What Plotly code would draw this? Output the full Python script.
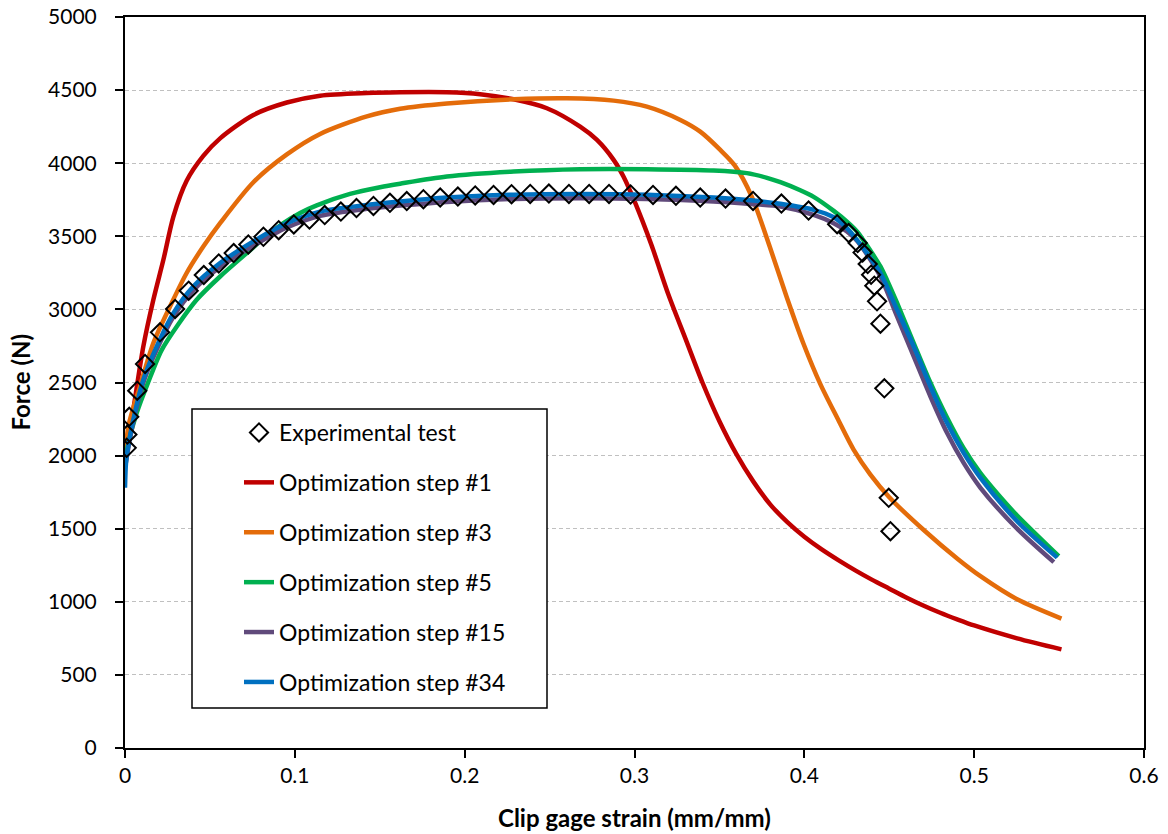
import plotly.graph_objects as go

# Experimental test (diamonds)
exp_x = [0.0010, 0.0014, 0.0025, 0.0072, 0.0118, 0.0206, 0.0295, 0.0375, 0.0464, 0.0552,
         0.0640, 0.0726, 0.0815, 0.0905, 0.0994, 0.1086, 0.1176, 0.1271, 0.1363, 0.1463,
         0.1560, 0.1659, 0.1757, 0.1856, 0.1960, 0.2062, 0.2170, 0.2276, 0.2386, 0.2496,
         0.2614, 0.2733, 0.2850, 0.2977, 0.3109, 0.3244, 0.3387, 0.3536, 0.3698, 0.3865,
         0.4025, 0.4193, 0.4261, 0.4314, 0.4343, 0.4373, 0.4393, 0.4412, 0.4428, 0.4448,
         0.4471, 0.4497, 0.4507]
exp_y = [2053, 2144, 2265, 2444, 2627, 2843, 3003, 3128, 3235, 3314,
         3385, 3444, 3497, 3542, 3581, 3615, 3645, 3669, 3693, 3708,
         3729, 3741, 3754, 3765, 3772, 3779, 3783, 3788, 3790, 3792,
         3790, 3790, 3790, 3786, 3783, 3777, 3765, 3758, 3742, 3724,
         3676, 3583, 3522, 3454, 3389, 3310, 3237, 3162, 3055, 2902,
         2460, 1711, 1483]

# Optimization step #1
s1_x = [0.0, 0.001, 0.0049, 0.0108, 0.0167, 0.0226, 0.0285, 0.0363, 0.0461, 0.056,
        0.0756, 0.0953, 0.1149, 0.1424, 0.162, 0.1895, 0.2091, 0.2288, 0.2484, 0.268,
        0.2779, 0.2877, 0.2935, 0.30, 0.31, 0.32, 0.33, 0.34, 0.35, 0.36,
        0.37, 0.38, 0.39, 0.40, 0.41, 0.42, 0.43, 0.44, 0.45, 0.46,
        0.47, 0.48, 0.49, 0.50, 0.5253, 0.5514]
s1_y = [1950, 2041, 2315, 2747, 3066, 3339, 3635, 3880, 4050, 4170,
        4330, 4415, 4462, 4480, 4485, 4485, 4472, 4437, 4376, 4250,
        4159, 4023, 3909, 3740, 3440, 3100, 2800, 2500, 2235, 2010,
        1822, 1665, 1545, 1445, 1360, 1285, 1215, 1150, 1090, 1030,
        975, 925, 880, 838, 750, 675]

# Optimization step #3
s3_x = [0.0, 0.002, 0.0088, 0.0167, 0.0265, 0.0363, 0.0461, 0.056, 0.0756, 0.0953,
        0.1149, 0.1424, 0.162, 0.1895, 0.2288, 0.2602, 0.2877, 0.3073, 0.327, 0.3387,
        0.3505, 0.359, 0.3691, 0.3796, 0.3896, 0.3995, 0.4095, 0.4195, 0.429, 0.4389,
        0.45, 0.4703, 0.4905, 0.5037, 0.5253, 0.5514]
s3_y = [1950, 2200, 2474, 2770, 3020, 3249, 3430, 3590, 3870, 4060,
        4200, 4320, 4372, 4408, 4437, 4444, 4428, 4387, 4296, 4216,
        4091, 3985, 3770, 3430, 3085, 2765, 2487, 2255, 2041, 1870,
        1715, 1491, 1291, 1175, 1017, 885]

# Optimization step #5
s5_x = [0.0, 0.002, 0.0069, 0.0135, 0.0215, 0.0315, 0.0422, 0.056, 0.0717, 0.083,
        0.0933, 0.1031, 0.1129, 0.1325, 0.1502, 0.162, 0.1895, 0.2288, 0.268, 0.3073,
        0.3466, 0.3662, 0.378, 0.3859, 0.3976, 0.4055, 0.4173, 0.4251, 0.431, 0.435,
        0.4408, 0.4448, 0.4487, 0.4546, 0.4644, 0.4742, 0.484, 0.4938, 0.5037, 0.5155,
        0.5253, 0.5498]
s5_y = [1950, 2087, 2292, 2497, 2720, 2900, 3066, 3225, 3385, 3500,
        3590, 3660, 3712, 3790, 3836, 3860, 3909, 3943, 3959, 3959,
        3950, 3932, 3900, 3870, 3815, 3770, 3674, 3600, 3533, 3470,
        3369, 3294, 3200, 3044, 2770, 2500, 2260, 2050, 1880, 1715,
        1590, 1312]

# Optimization step #15
s15_x = [0.0005, 0.0019, 0.0049, 0.0108, 0.0187, 0.0285, 0.0402, 0.056, 0.0756, 0.0953,
         0.1149, 0.1424, 0.162, 0.1895, 0.2288, 0.268, 0.3073, 0.3466, 0.3698, 0.3859,
         0.4055, 0.4173, 0.4251, 0.431, 0.435, 0.4448, 0.4546, 0.4644, 0.4742, 0.484,
         0.4938, 0.5037, 0.5253, 0.5469]
s15_y = [1950, 2050, 2230, 2500, 2725, 2950, 3130, 3290, 3435, 3560,
         3640, 3688, 3710, 3735, 3755, 3760, 3755, 3738, 3720, 3704,
         3647, 3590, 3533, 3470, 3408, 3225, 2952, 2679, 2406, 2156,
         1950, 1780, 1500, 1271]

# Optimization step #34
s34_x = [0.0, 0.0006, 0.0019, 0.0049, 0.0108, 0.0187, 0.0285, 0.0402, 0.056, 0.0756,
         0.0953, 0.1149, 0.1424, 0.162, 0.1895, 0.2288, 0.268, 0.3073, 0.3466, 0.3698,
         0.3859, 0.4055, 0.4173, 0.4251, 0.431, 0.4369, 0.4448, 0.4546, 0.4644, 0.4742,
         0.484, 0.4938, 0.5037, 0.5253, 0.5489]
s34_y = [1780, 1950, 2064, 2246, 2520, 2747, 2975, 3157, 3317, 3465,
         3590, 3669, 3715, 3738, 3765, 3785, 3790, 3785, 3765, 3745,
         3722, 3681, 3630, 3556, 3475, 3385, 3249, 2998, 2747, 2474,
         2224, 2019, 1848, 1551, 1302]

x_ticks = [0, 0.1, 0.2, 0.3, 0.4, 0.5, 0.6]
x_tick_labels = ["0", "0.1", "0.2", "0.3", "0.4", "0.5", "0.6"]
y_ticks = [0, 500, 1000, 1500, 2000, 2500, 3000, 3500, 4000, 4500, 5000]

FONT = "Lato"
W, H = 1168, 834
ML, MR, MT, MB = 125, 24, 17, 86
PW, PH = W - ML - MR, H - MT - MB


def px_x(p):
    return (p - ML) / PW


def px_y(p):
    return (H - MB - p) / PH


fig = go.Figure()

line_series = [
    ("Optimization step #1", s1_x, s1_y, "#C00000"),
    ("Optimization step #3", s3_x, s3_y, "#E46C0A"),
    ("Optimization step #5", s5_x, s5_y, "#00B050"),
    ("Optimization step #15", s15_x, s15_y, "#604A7B"),
    ("Optimization step #34", s34_x, s34_y, "#0070C0"),
]
for i, (name, xs, ys, col) in enumerate(line_series):
    fig.add_trace(go.Scatter(
        x=xs, y=ys, mode="lines", name=name,
        line=dict(color=col, width=4.5, shape="spline", smoothing=0.8),
        legendgroup=name, legendrank=2 + i,
    ))

fig.add_trace(go.Scatter(
    x=exp_x, y=exp_y, mode="markers", name="Experimental test",
    marker=dict(symbol="diamond-open", size=14, color="black", line=dict(width=2, color="black")),
    legendgroup="exp", legendrank=1,
))

fig.add_shape(type="rect", xref="paper", yref="paper",
              x0=px_x(192), x1=px_x(547), y0=px_y(708), y1=px_y(409),
              line=dict(color="black", width=1.5), fillcolor="white", layer="above")

# Axis titles
fig.add_annotation(text="<b>Clip gage strain (mm/mm)</b>", xref="paper", yref="paper",
                   x=0.5, y=px_y(817), xanchor="center", yanchor="middle", showarrow=False,
                   font=dict(size=24, family=FONT, color="black"))
fig.add_annotation(text="<b>Force (N)</b>", xref="paper", yref="paper",
                   x=px_x(20), y=0.5, xanchor="center", yanchor="middle", showarrow=False,
                   textangle=-90, font=dict(size=24, family=FONT, color="black"))

fig.update_layout(
    width=W, height=H,
    margin=dict(l=ML, r=MR, t=MT, b=MB, autoexpand=False),
    plot_bgcolor="white", paper_bgcolor="white",
    font=dict(family=FONT, size=21, color="black"),
    showlegend=True,
    legend=dict(
        x=px_x(239), y=px_y(411), xanchor="left", yanchor="top",
        bgcolor="rgba(0,0,0,0)", borderwidth=0,
        font=dict(family=FONT, size=23, color="black"),
        tracegroupgap=17,
    ),
    xaxis=dict(
        range=[0, 0.6], tickvals=x_ticks, ticktext=x_tick_labels,
        showgrid=False, zeroline=False, automargin=False,
        showline=True, linecolor="black", linewidth=2, mirror=True,
        ticks="outside", ticklen=8, tickcolor="black", tickwidth=1.5,
        tickfont=dict(size=21, family=FONT),
    ),
    yaxis=dict(
        range=[0, 5000], tickvals=y_ticks,
        showgrid=True, gridcolor="#c0c0c0", griddash="4px,3px", gridwidth=1,
        zeroline=False, automargin=False,
        showline=True, linecolor="black", linewidth=2, mirror=True,
        ticks="outside", ticklen=8, tickcolor="black", tickwidth=1.5,
        ticklabelstandoff=14,
        tickfont=dict(size=21, family=FONT),
    ),
)

fig.write_html("out.html", config={"displayModeBar": False},
               post_script="document.body.style.margin='0';")
